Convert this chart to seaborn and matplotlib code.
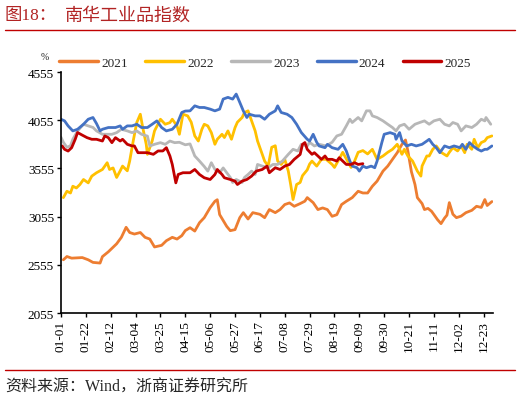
import matplotlib
matplotlib.use("Agg")
import matplotlib.pyplot as plt
from matplotlib.lines import Line2D
import seaborn as sns
import pandas as pd

# day of year (0 = 01-01) and index level
days_2021 = [2, 5, 9, 18, 23, 27, 33, 35, 40, 47, 51, 55, 58, 62, 67, 71, 75, 79, 85, 89,
             94, 98, 102, 105, 109, 113, 117, 121, 126, 130, 132, 134, 140, 143, 147, 151,
             154, 158, 162, 168, 172, 176, 181, 185, 189, 193, 197, 202, 206, 208, 213, 217,
             221, 225, 229, 233, 237, 241, 246, 251, 255, 259, 263, 267, 272, 276, 280, 284,
             288, 291, 293, 296, 299, 301, 305, 307, 310, 313, 315, 318, 321, 324, 326, 328,
             331, 334, 338, 342, 347, 351, 355, 358, 360, 364]
vals_2021 = [2607, 2641, 2624, 2630, 2607, 2580, 2573, 2640, 2690, 2773, 2840, 2944, 2890, 2874,
             2890, 2840, 2822, 2740, 2757, 2805, 2840, 2822, 2857, 2910, 2940, 2905, 2992, 3044,
             3148, 3214, 3230, 3076, 2953, 2909, 2920, 3044, 3096, 3030, 3096, 3079, 3044, 3128,
             3096, 3128, 3180, 3197, 3162, 3190, 3215, 3252, 3200, 3128, 3145, 3128, 3058, 3075,
             3180, 3214, 3252, 3318, 3300, 3300, 3370, 3423, 3527, 3579, 3649, 3718, 3805, 3850,
             3735, 3520, 3388, 3252, 3190, 3128, 3140, 3110, 3076, 3024, 2982, 3040, 3070, 3200,
             3080, 3044, 3060, 3096, 3120, 3162, 3150, 3232, 3170, 3211]

days_2022 = [2, 5, 8, 10, 13, 16, 19, 23, 26, 30, 35, 39, 41, 44, 47, 50, 52, 56, 58, 61, 64,
             67, 69, 72, 73, 77, 79, 84, 88, 92, 94, 98, 100, 103, 107, 110, 113, 116, 119, 121,
             124, 127, 130, 132, 136, 138, 141, 144, 147, 149, 153, 155, 158, 161, 164, 166,
             170, 172, 175, 178, 181, 183, 186, 189, 192, 194, 196, 199, 202, 204, 208, 210,
             212, 216, 220, 224, 229, 231, 234, 238, 242, 245, 248, 251, 255, 259, 263, 267,
             272, 276, 280, 284, 288, 290, 293, 297, 301, 304, 305, 309, 311, 314, 317, 321,
             326, 328, 331, 335, 338, 341, 343, 347, 349, 352, 355, 358, 360, 364]
vals_2022 = [3252, 3318, 3300, 3370, 3352, 3388, 3440, 3405, 3475, 3510, 3544, 3614, 3544, 3560,
             3461, 3530, 3579, 3530, 3631, 3839, 4031, 4117, 3982, 3805, 3701, 3839, 3944, 4065,
             4013, 4030, 4065, 3996, 3909, 4117, 4100, 4034, 3892, 3839, 3961, 4013, 3996, 3926,
             3805, 3857, 3909, 3875, 3944, 3857, 3978, 4034, 4083, 4135, 4152, 4048, 3944, 3840,
             3701, 3631, 3579, 3774, 3790, 3631, 3596, 3649, 3527, 3388, 3232, 3388, 3409, 3480,
             3540, 3600, 3631, 3579, 3649, 3649, 3596, 3565, 3631, 3722, 3631, 3565, 3631, 3722,
             3740, 3705, 3753, 3649, 3684, 3722, 3753, 3805, 3701, 3753, 3684, 3631, 3527, 3475,
             3580, 3684, 3684, 3753, 3788, 3722, 3684, 3722, 3770, 3736, 3788, 3718, 3805, 3753,
             3857, 3770, 3823, 3840, 3874, 3892]

days_2023 = [0, 2, 5, 8, 10, 14, 19, 23, 27, 30, 35, 39, 43, 47, 51, 56, 60, 64, 68, 73, 75,
             79, 84, 88, 92, 96, 100, 105, 109, 113, 117, 121, 124, 127, 130, 134, 137, 140,
             143, 145, 148, 153, 155, 158, 161, 164, 166, 170, 175, 179, 183, 187, 192, 196,
             200, 203, 208, 210, 214, 218, 224, 229, 233, 237, 241, 244, 246, 251, 254, 258,
             261, 263, 267, 272, 276, 280, 283, 286, 290, 294, 299, 303, 307, 311, 315, 320,
             324, 328, 331, 335, 338, 342, 347, 351, 355, 358, 359, 363]
vals_2023 = [3878, 3826, 3774, 3790, 3857, 3944, 4013, 3996, 3980, 3944, 3909, 3909, 3909, 3926,
             3961, 3944, 3926, 3944, 3909, 3890, 3788, 3805, 3822, 3805, 3839, 3822, 3826, 3800,
             3809, 3684, 3631, 3575, 3527, 3614, 3545, 3510, 3560, 3510, 3461, 3409, 3440, 3409,
             3461, 3492, 3527, 3492, 3596, 3579, 3562, 3596, 3596, 3631, 3701, 3753, 3736, 3805,
             3788, 3826, 3788, 3805, 3788, 3826, 3892, 3909, 3996, 4065, 4031, 4083, 4048, 4152,
             4152, 4100, 4083, 4048, 4013, 3979, 3944, 3996, 4013, 3961, 4013, 4031, 4048, 4013,
             4048, 4065, 4013, 3996, 4031, 4013, 3944, 3996, 3979, 4013, 4065, 4048, 4083, 4013]

days_2024 = [0, 3, 6, 10, 14, 19, 23, 27, 30, 33, 35, 40, 46, 50, 52, 56, 60, 64, 68, 73, 77,
             81, 85, 89, 94, 98, 102, 105, 109, 113, 117, 121, 126, 130, 134, 137, 141, 145,
             148, 151, 154, 157, 159, 164, 168, 172, 176, 181, 183, 186, 191, 195, 199, 203,
             208, 210, 213, 216, 218, 223, 225, 229, 234, 238, 241, 244, 246, 250, 252, 255,
             258, 262, 265, 267, 271, 273, 278, 282, 283, 286, 288, 292, 296, 300, 305, 309,
             311, 314, 317, 320, 324, 328, 332, 337, 339, 342, 345, 348, 352, 355, 358, 360, 364]
vals_2024 = [4065, 4048, 3996, 3944, 3961, 4013, 4065, 4083, 4020, 3944, 3961, 3979, 3979, 3996,
             3961, 3996, 3996, 4013, 3979, 3979, 4013, 4048, 3979, 3944, 3961, 4013, 4135, 4150,
             4152, 4204, 4187, 4187, 4170, 4152, 4170, 4274, 4292, 4274, 4326, 4240, 4152, 4083,
             4117, 4100, 4100, 4065, 4117, 4152, 4204, 4135, 4117, 4083, 4013, 3927, 3857, 3839,
             3909, 3826, 3788, 3770, 3805, 3770, 3753, 3805, 3736, 3631, 3579, 3562, 3527, 3579,
             3562, 3579, 3562, 3631, 3823, 3909, 3926, 3909, 3857, 3927, 3840, 3788, 3805, 3788,
             3805, 3839, 3857, 3805, 3770, 3718, 3788, 3770, 3788, 3770, 3805, 3753, 3823, 3788,
             3753, 3735, 3753, 3753, 3788]

days_2025 = [1, 3, 6, 9, 12, 14, 18, 22, 26, 30, 35, 37, 40, 43, 46, 50, 52, 56, 60, 62, 65,
             69, 73, 78, 82, 86, 89, 92, 94, 97, 99, 103, 109, 113, 117, 121, 126, 130, 132,
             136, 138, 143, 147, 149, 153, 157, 161, 165, 170, 174, 176, 181, 185, 189, 193,
             197, 202, 204, 206, 208, 212, 214, 217, 220, 223, 225, 229, 233, 235, 238, 241,
             245, 248, 251, 255]
vals_2025 = [3788, 3753, 3735, 3770, 3857, 3927, 3900, 3874, 3857, 3857, 3839, 3892, 3874, 3822,
             3874, 3839, 3857, 3805, 3788, 3788, 3718, 3718, 3718, 3701, 3736, 3736, 3770, 3684,
             3596, 3405, 3492, 3510, 3510, 3544, 3492, 3458, 3440, 3492, 3544, 3492, 3458, 3440,
             3423, 3388, 3423, 3440, 3475, 3527, 3544, 3579, 3510, 3562, 3544, 3579, 3596, 3649,
             3700, 3805, 3823, 3753, 3701, 3718, 3684, 3649, 3684, 3649, 3649, 3631, 3666, 3631,
             3596, 3596, 3614, 3596, 3604]

years = ["2021", "2022", "2023", "2024", "2025"]
colors = ["#ED7D31", "#FFC000", "#B7B7B7", "#4472C4", "#C00000"]
y_ticks = [2055, 2555, 3055, 3555, 4055, 4555]
x_labels = ["01-01", "01-22", "02-12", "03-04", "03-25", "04-15", "05-06", "05-27", "06-17",
            "07-08", "07-29", "08-19", "09-09", "09-30", "10-21", "11-11", "12-02", "12-23"]

series = [(days_2021, vals_2021), (days_2022, vals_2022), (days_2023, vals_2023),
          (days_2024, vals_2024), (days_2025, vals_2025)]
frames = []
for yr, (d, v) in zip(years, series):
    frames.append(pd.DataFrame({"day": d, "value": v, "year": yr}))
df = pd.concat(frames, ignore_index=True)

sns.set_theme(style="ticks")
plt.rcParams["font.family"] = ["Liberation Serif", "Noto Sans CJK SC"]

fig = plt.figure(figsize=(5.2, 4.02), dpi=100)
ax = fig.add_axes([0.1173, 0.2189, 0.831, 0.5995])

sns.lineplot(data=df, x="day", y="value", hue="year", palette=dict(zip(years, colors)),
             estimator=None, linewidth=2.0, ax=ax, legend=False)

ax.set_xlim(0, 365)
ax.set_ylim(2055, 4555)
ax.set_yticks(y_ticks)
ax.set_yticklabels([str(t) for t in y_ticks], fontsize=9.5)
ax.set_xticks([21 * i for i in range(len(x_labels))])
ax.set_xticklabels(x_labels, rotation=90, fontsize=9.5)
ax.set_xlabel("")
ax.set_ylabel("")
ax.tick_params(axis="both", length=3, width=1, color="black", labelcolor="black", pad=2)
for side in ["top", "right"]:
    ax.spines[side].set_visible(False)
for side in ["left", "bottom"]:
    ax.spines[side].set_color("black")
    ax.spines[side].set_linewidth(1.2)

handles = [Line2D([], [], color=c, lw=2.5) for c in colors]
fig.legend(handles, years, loc="center left", bbox_to_anchor=(59 / 520, 1 - 64 / 402),
           ncol=5, frameon=False, fontsize=9.5, handlelength=2.95, handletextpad=0.25,
           columnspacing=1.3, borderpad=0, borderaxespad=0)

fig.text(45 / 520, 1 - 57 / 402, "%", fontsize=7, ha="center", va="center")

title_color = "#B22424"
fig.text(5 / 520, 1 - 16 / 402, "图18：", fontsize=12.5, color=title_color, va="center")
fig.text(65 / 520, 1 - 16 / 402, "南华工业品指数", fontsize=13, color=title_color, va="center")
fig.add_artist(Line2D([5 / 520, 515 / 520], [1 - 31 / 402] * 2, color="#C00000", lw=1))
fig.add_artist(Line2D([5 / 520, 515 / 520], [1 - 371 / 402] * 2, color="#C00000", lw=1))
fig.text(5 / 520, 1 - 388 / 402, "资料来源：Wind，浙商证券研究所", fontsize=11.5, va="center")

fig.savefig("out.png", dpi=100)
